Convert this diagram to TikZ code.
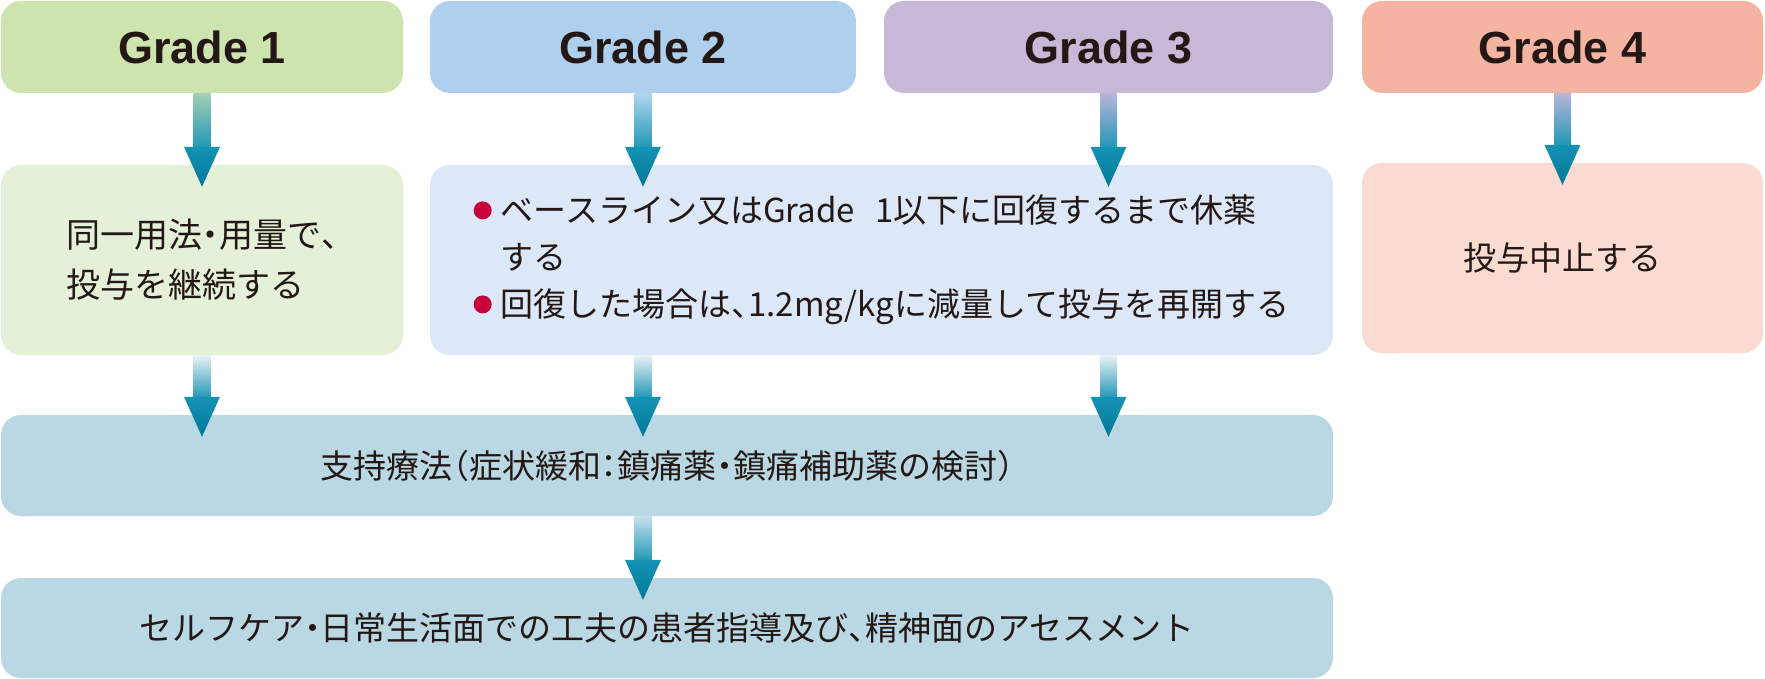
\documentclass[tikz,border=0pt]{standalone}
\usepackage{fontspec}
\setmainfont{Noto Sans CJK JP}
\newfontfamily\halfcjk{Noto Sans CJK JP}[RawFeature=+halt]
\newfontfamily\gradefont{Liberation Sans}
\usetikzlibrary{calc}
\definecolor{ink}{HTML}{231815}
\definecolor{gonehead}{HTML}{CDE4AF}
\definecolor{gonebox}{HTML}{E4F0D8}
\definecolor{gtwohead}{HTML}{AFCFEE}
\definecolor{gtwobox}{HTML}{DCE8F7}
\definecolor{gthreehead}{HTML}{C8B8D7}
\definecolor{gfourhead}{HTML}{F5B3A2}
\definecolor{gfourbox}{HTML}{FADBD1}
\definecolor{carebox}{HTML}{B9D8E3}
\definecolor{bulletred}{HTML}{C8003C}
\definecolor{shaftend}{HTML}{1E96B6}
\definecolor{headtop}{HTML}{1593B4}
\definecolor{headend}{HTML}{007899}
\definecolor{arrgreen}{HTML}{A3CFB6}
\definecolor{arrblue}{HTML}{B0D5EE}
\definecolor{arrlilac}{HTML}{B8B5D8}
\definecolor{arrpale}{HTML}{E8F2F5}
\definecolor{arrsky}{HTML}{C4E0EC}
\newcommand{\hp}[1]{{\halfcjk #1}}
\newcommand{\redbullet}{\tikz[baseline=-12pt]\fill[bulletred] (0,0) circle (9pt);}
% gradient arrow: from, to, column, top colour
\newcommand{\gradarrow}[4]{%
  \shade[top color=#4, bottom color=shaftend]
    ($(#1.south -| #3.south)+(-8.5,0)$) rectangle ($(#2.north -| #3.south)+(8.5,-16)$);
  \shade[top color=headtop, bottom color=headend]
    ($(#2.north -| #3.south)+(-18,-18)$) -- ($(#2.north -| #3.south)+(18,-18)$)
    -- ($(#2.north -| #3.south)+(0,22)$) -- cycle;
}

\begin{document}
\begin{tikzpicture}[x=1pt,y=-1pt,
    box/.style={rectangle,rounded corners=20pt,inner sep=0pt,text=ink},
    head/.style={box,minimum height=92pt,font=\gradefont\bfseries\fontsize{45}{50}\selectfont},
    body/.style={box,minimum height=190pt,font=\fontsize{33}{47}\selectfont},
    care/.style={box,fill=carebox,minimum width=1332pt,font=\fontsize{33}{47}\selectfont}]
  \useasboundingbox (0,0) rectangle (1765,679);
  % grade headers
  \node[head,fill=gonehead,minimum width=402pt] (g1) at (202,47) {Grade 1};
  \node[head,fill=gtwohead,minimum width=426pt] (g2) at (643,47) {Grade 2};
  \node[head,fill=gthreehead,minimum width=449pt] (g3) at (1108.5,47) {Grade 3};
  \node[head,fill=gfourhead,minimum width=401pt] (g4) at (1562.5,47) {Grade 4};
  % measures
  \node[body,fill=gonebox,minimum width=402pt,align=left,font=\fontsize{34}{50}\selectfont] (r1) at (202,260) {同一用法\hp{・}用量で\hp{、}\\投与を継続する};
  \node[body,fill=gtwobox,minimum width=903pt] (r2) at (881.5,260) {%
    \begin{tabular}{@{}l@{\hspace{9pt}}l@{}}
    \redbullet & ベースライン又はGrade\hspace{20pt}1以下に回復するまで休薬\\
     & する\\
    \redbullet & 回復した場合は\hp{、}1.2mg/kgに減量して投与を再開する
    \end{tabular}};
  \node[body,fill=gfourbox,minimum width=401pt] (r4) at (1562.5,258) {投与中止する};
  \node[care,minimum height=101pt] (sup) at (667,465.5) {支持療法\hp{（}症状緩和\hp{：}鎮痛薬\hp{・}鎮痛補助薬の検討\hp{）}};
  \node[care,minimum height=100pt] (self) at (667,628) {セルフケア\hp{・}日常生活面での工夫の患者指導及び\hp{、}精神面のアセスメント};
  % arrows
  \gradarrow{g1}{r1}{g1}{arrgreen}
  \gradarrow{g2}{r2}{g2}{arrblue}
  \gradarrow{g3}{r2}{g3}{arrlilac}
  \gradarrow{g4}{r4}{g4}{arrlilac}
  \gradarrow{r1}{sup}{g1}{arrpale}
  \gradarrow{r2}{sup}{g2}{arrpale}
  \gradarrow{r2}{sup}{g3}{arrpale}
  \gradarrow{sup}{self}{g2}{arrsky}
\end{tikzpicture}
\end{document}
